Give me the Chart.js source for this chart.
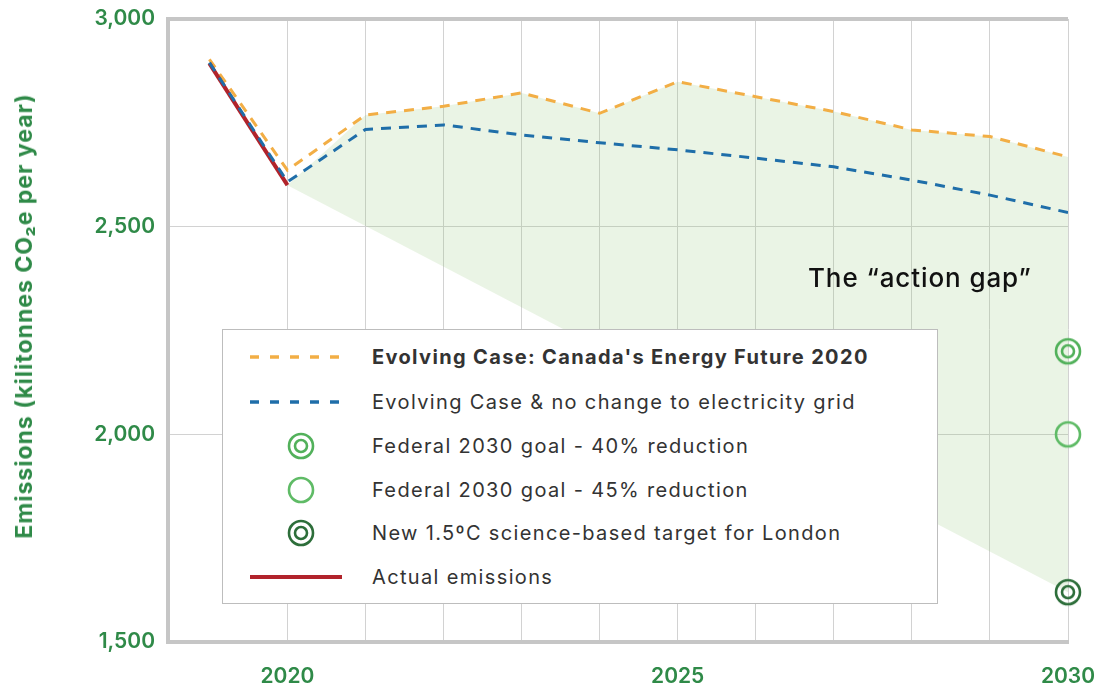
<!DOCTYPE html>
<html lang="en">
<head>
<meta charset="UTF-8">
<title>Emissions and the action gap</title>
<script src="https://cdn.jsdelivr.net/npm/chart.js"></script>
<style>
    body {
        margin: 0;
        background: #fff;
        font-family: Inter, "Open Sans", sans-serif;
    }
    .wrap {
        position: relative;
        width: 1101px;
        height: 687px;
    }
    .y-title {
        position: absolute;
        left: 24px;
        top: 316px;
        transform: translate(-50%, -50%) rotate(-90deg);
        white-space: nowrap;
        color: #2f8a48;
        font-weight: 700;
        font-size: 23px;
        letter-spacing: 1px;
    }
    .gap-note {
        position: absolute;
        left: 808px;
        top: 262px;
        font-size: 26px;
        font-weight: 500;
        letter-spacing: 0.9px;
        color: #111;
        white-space: nowrap;
    }
    .legend {
        position: absolute;
        left: 222px;
        top: 329px;
        width: 716px;
        height: 275px;
        box-sizing: border-box;
        border: 1px solid #bdbdbd;
        background: #fff;
    }
    .legend-row {
        position: absolute;
        left: 0;
        height: 30px;
        display: flex;
        align-items: center;
    }
    .legend-row svg {
        margin-left: 27px;
        width: 94px;
        height: 30px;
    }
    .legend-row span {
        margin-left: 28px;
        font-size: 20px;
        color: #333;
        letter-spacing: 1.35px;
        white-space: nowrap;
    }
</style>
</head>
<body>
<div class="wrap">
    <canvas id="chart"></canvas>
    <div class="y-title">Emissions (kilitonnes CO₂e per year)</div>
    <div class="gap-note">The “action gap”</div>
    <div class="legend" id="legend"></div>
</div>
<script>
    // values (kilotonnes CO2e per year)
    const years = [2019, 2020, 2021, 2022, 2023, 2024, 2025, 2026, 2027, 2028, 2029, 2030];
    const evolvingCase = [2903, 2636, 2769, 2790, 2822, 2773, 2849, 2813, 2777, 2733, 2717, 2668];
    const noGridChange = [2895, 2608, 2734, 2745, 2721, 2702, 2685, 2665, 2644, 2612, 2576, 2534];
    const actualYears = [2019, 2020];
    const actualEmissions = [2893, 2600];
    const targetYear = 2030;
    const goal40 = 2200;
    const goal45 = 2000;
    const target15 = 1620;

    const xGridYears = [2020, 2021, 2022, 2023, 2024, 2025, 2026, 2027, 2028, 2029, 2030];
    const xLabelYears = [2020, 2025, 2030];
    const yTicks = [1500, 2000, 2500, 3000];

    const ORANGE = '#f2ae45';
    const BLUE = '#1f6ea9';
    const RED = '#b1232b';
    const GREEN_MID = '#52b15b';
    const GREEN_LIGHT = '#5fbb66';
    const GREEN_DARK = '#2d6e3a';
    const TICK_GREEN = '#2f8a48';

    function ringImage(color, inner) {
        const c = document.createElement('canvas');
        c.width = 30;
        c.height = 30;
        const g = c.getContext('2d');
        g.strokeStyle = color;
        g.lineWidth = 2.6;
        g.beginPath();
        g.arc(15, 15, 12, 0, Math.PI * 2);
        g.stroke();
        if (inner) {
            g.beginPath();
            g.arc(15, 15, 6, 0, Math.PI * 2);
            g.stroke();
        }
        return c;
    }

    // the shaded gap: actual 2020 value, then the evolving case, down to the 1.5C target
    const gapShape = [{ x: actualYears[1], y: actualEmissions[1] }]
        .concat(years.slice(2).map((yr, i) => ({ x: yr, y: evolvingCase[i + 2] })))
        .concat([{ x: targetYear, y: target15 }]);

    const toPoints = (xs, ys) => xs.map((x, i) => ({ x: x, y: ys[i] }));

    const legendItems = [
        { label: "Evolving Case: Canada's Energy Future 2020", kind: 'dash', color: ORANGE, bold: true },
        { label: 'Evolving Case & no change to electricity grid', kind: 'dash', color: BLUE },
        { label: 'Federal 2030 goal - 40% reduction', kind: 'ring2', color: GREEN_MID },
        { label: 'Federal 2030 goal - 45% reduction', kind: 'ring', color: GREEN_LIGHT },
        { label: 'New 1.5ºC science-based target for London', kind: 'ring2', color: GREEN_DARK },
        { label: 'Actual emissions', kind: 'line', color: RED }
    ];
    const legendRowTops = [12, 57, 101, 145, 188, 232];

    const legend = document.getElementById('legend');
    legendItems.forEach((item, i) => {
        const row = document.createElement('div');
        row.className = 'legend-row';
        row.style.top = legendRowTops[i] + 'px';
        let icon = '';
        if (item.kind === 'dash') {
            icon = `<line x1="0" y1="15" x2="94" y2="15" stroke="${item.color}" stroke-width="3.5" stroke-dasharray="9 11"/>`;
        } else if (item.kind === 'line') {
            icon = `<line x1="0" y1="15" x2="92" y2="15" stroke="${item.color}" stroke-width="4"/>`;
        } else {
            icon = `<circle cx="51" cy="15" r="12" fill="none" stroke="${item.color}" stroke-width="2.6"/>`;
            if (item.kind === 'ring2') {
                icon += `<circle cx="51" cy="15" r="6" fill="none" stroke="${item.color}" stroke-width="2.6"/>`;
            }
        }
        row.innerHTML = `<svg viewBox="0 0 94 30">${icon}</svg><span style="font-weight:${item.bold ? 700 : 400}">${item.label}</span>`;
        legend.appendChild(row);
    });

    new Chart(document.getElementById('chart'), {
        type: 'line',
        data: {
            datasets: [
                {
                    label: 'Federal 2030 goal - 40% reduction',
                    data: [{ x: targetYear, y: goal40 }],
                    showLine: false,
                    pointStyle: ringImage(GREEN_MID, true),
                    clip: false
                },
                {
                    label: 'Federal 2030 goal - 45% reduction',
                    data: [{ x: targetYear, y: goal45 }],
                    showLine: false,
                    pointStyle: ringImage(GREEN_LIGHT, false),
                    clip: false
                },
                {
                    label: 'New 1.5ºC science-based target for London',
                    data: [{ x: targetYear, y: target15 }],
                    showLine: false,
                    pointStyle: ringImage(GREEN_DARK, true),
                    clip: false
                },
                {
                    label: 'Evolving Case & no change to electricity grid',
                    data: toPoints(years, noGridChange),
                    borderColor: BLUE,
                    borderWidth: 3,
                    borderDash: [10, 8],
                    pointRadius: 0
                },
                {
                    label: 'Actual emissions',
                    data: toPoints(actualYears, actualEmissions),
                    borderColor: RED,
                    borderWidth: 4,
                    pointRadius: 0
                },
                {
                    label: "Evolving Case: Canada's Energy Future 2020",
                    data: toPoints(years, evolvingCase),
                    borderColor: ORANGE,
                    borderWidth: 3,
                    borderDash: [10, 8],
                    pointRadius: 0
                },
                {
                    label: 'Action gap',
                    data: gapShape,
                    borderWidth: 0,
                    pointRadius: 0,
                    backgroundColor: 'rgba(140, 195, 110, 0.18)',
                    fill: 'shape'
                }
            ]
        },
        options: {
            responsive: true,
            maintainAspectRatio: false,
            animation: false,
            layout: { padding: { top: 19, right: 33, left: 0, bottom: 0 } },
            plugins: {
                legend: { display: false },
                tooltip: { enabled: false }
            },
            scales: {
                x: {
                    type: 'linear',
                    min: 2018.47,
                    max: 2030,
                    afterBuildTicks: scale => {
                        scale.ticks = xGridYears.map(v => ({ value: v }));
                    },
                    afterFit: scale => {
                        scale.height = 45;
                        scale.paddingLeft = 0;
                        scale.paddingRight = 0;
                    },
                    grid: { color: '#d2d2d2', lineWidth: 1, drawTicks: false },
                    border: { color: '#c6c6c6', width: 4 },
                    ticks: {
                        padding: 22,
                        color: TICK_GREEN,
                        font: { family: 'Inter', size: 21, weight: 600 },
                        callback: v => xLabelYears.includes(v) ? String(v) : ''
                    }
                },
                y: {
                    min: 1500,
                    max: 3000,
                    afterBuildTicks: scale => {
                        scale.ticks = yTicks.map(v => ({ value: v }));
                    },
                    afterFit: scale => {
                        scale.width = 168;
                        scale.paddingTop = 0;
                        scale.paddingBottom = 0;
                    },
                    grid: {
                        color: ctx => ctx.tick && ctx.tick.value === 3000 ? '#c6c6c6' : '#d2d2d2',
                        lineWidth: ctx => ctx.tick && ctx.tick.value === 3000 ? 4 : 1,
                        drawTicks: false
                    },
                    border: { color: '#c6c6c6', width: 4 },
                    ticks: {
                        padding: 13,
                        color: TICK_GREEN,
                        font: { family: 'Inter', size: 21, weight: 600 },
                        callback: v => v.toLocaleString('en-US')
                    }
                }
            }
        }
    });
</script>
</body>
</html>
